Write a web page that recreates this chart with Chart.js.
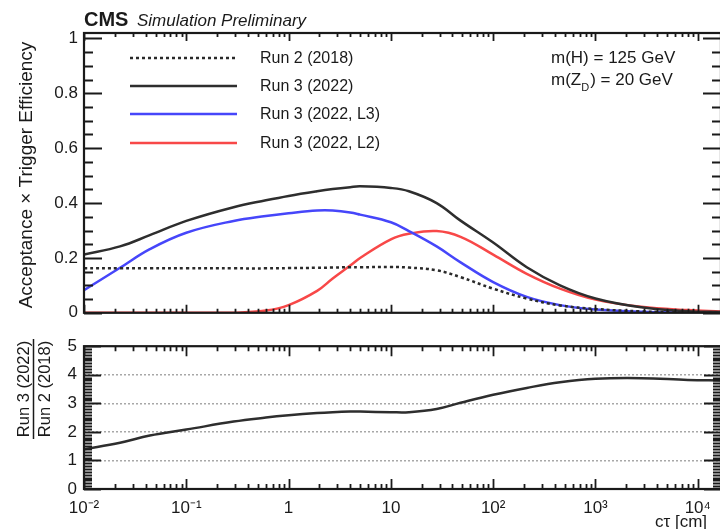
<!DOCTYPE html>
<html>
<head>
<meta charset="utf-8">
<script src="https://cdn.jsdelivr.net/npm/chart.js@4.4.1/dist/chart.umd.min.js"></script>
<style>
  html, body { margin: 0; padding: 0; background: #fff; overflow: hidden; width: 720px; height: 529px; }
  canvas { position: absolute; left: 0; }
  #effChart { top: 0; }
  #ratioChart { top: 329px; }
</style>
</head>
<body>
<canvas id="effChart" width="730" height="329"></canvas>
<canvas id="ratioChart" width="730" height="200"></canvas>
<script>
// proper decay length c·tau in cm
const ctau      = [0.01, 0.0225, 0.044, 0.1, 0.29, 0.6, 1, 1.9, 2.7, 4, 5, 10, 15, 28, 48, 100, 213, 450, 1000, 2800, 8000, 16870];
// acceptance x trigger efficiency
const run2018   = [0.162, 0.162, 0.162, 0.162, 0.162, 0.162, 0.163, 0.164, 0.165, 0.166, 0.166, 0.167, 0.165, 0.155, 0.13, 0.088, 0.052, 0.027, 0.014, 0.005, 0.0015, 0.0008];
const run2022   = [0.212, 0.242, 0.283, 0.335, 0.385, 0.41, 0.426, 0.443, 0.451, 0.458, 0.461, 0.455, 0.443, 0.40, 0.336, 0.256, 0.166, 0.10, 0.052, 0.02, 0.006, 0.003];
const run2022L3 = [0.082, 0.164, 0.232, 0.292, 0.335, 0.353, 0.363, 0.373, 0.373, 0.366, 0.358, 0.33, 0.298, 0.242, 0.184, 0.112, 0.058, 0.028, 0.012, 0.004, 0.001, 0.0005];
const run2022L2 = [0, 0, 0, 0, 0, 0.008, 0.028, 0.08, 0.125, 0.172, 0.2, 0.268, 0.288, 0.298, 0.277, 0.212, 0.142, 0.088, 0.048, 0.022, 0.01, 0.005];
// Run 3 (2022) / Run 2 (2018)
const ratio     = [1.39, 1.62, 1.87, 2.08, 2.36, 2.5, 2.58, 2.66, 2.69, 2.71, 2.71, 2.69, 2.69, 2.8, 3.02, 3.3, 3.54, 3.74, 3.86, 3.88, 3.82, 3.8];

const effTicks        = [0, 0.2, 0.4, 0.6, 0.8, 1];
const effTickLabels   = ['0', '0.2', '0.4', '0.6', '0.8', '1'];
const ratioTicks      = [0, 1, 2, 3, 4, 5];
const ratioTickLabels = ['0', '1', '2', '3', '4', '5'];
const ctTicks         = [0.01, 0.1, 1, 10, 100, 1000, 10000];
const ctTickLabels    = ['10⁻²', '10⁻¹', '1', '10', '10²', '10³', '10⁴'];

const X_MIN = 0.01, X_MAX = 16870;
const FONT = "'Liberation Sans', Arial, Helvetica, sans-serif";
const INK = '#1a1a1a';

Chart.defaults.font.family = FONT;
Chart.defaults.color = INK;

const pts = vals => ctau.map((c, i) => ({ x: c, y: vals[i] }));

// ROOT-style frame with inward ticks on all four sides
const rootFrame = {
  id: 'rootFrame',
  afterDatasetsDraw(chart, args, o) {
    const { ctx, chartArea: a, scales: { x, y } } = chart;
    ctx.save();
    ctx.strokeStyle = INK;
    ctx.lineWidth = 2.2;
    ctx.strokeRect(a.left, a.top, a.right - a.left, a.bottom - a.top);
    ctx.lineWidth = 1.8;
    ctx.beginPath();
    for (let d = -2; d <= 4; d++) {
      for (let m = 1; m <= 9; m++) {
        const v = m * Math.pow(10, d);
        if (v < x.min * 0.999 || v > x.max) continue;
        const px = Math.round(x.getPixelForValue(v)) + 0.5;
        const len = m === 1 ? o.xMajor : o.xMinor;
        ctx.moveTo(px, a.bottom); ctx.lineTo(px, a.bottom - len);
        ctx.moveTo(px, a.top); ctx.lineTo(px, a.top + len);
      }
    }
    const n = Math.round((y.max - y.min) / o.yMinorStep);
    for (let i = 0; i <= n; i++) {
      const v = y.min + i * o.yMinorStep;
      if (v > y.max + 1e-9) break;
      const r = v / o.yMajorStep;
      const major = Math.abs(r - Math.round(r)) < 1e-6;
      const len = major ? o.yMajor : o.yMinor;
      const py = Math.round(y.getPixelForValue(v)) + 0.5;
      ctx.moveTo(a.left, py); ctx.lineTo(a.left + len, py);
      ctx.moveTo(a.right, py); ctx.lineTo(a.right - len, py);
    }
    ctx.stroke();
    ctx.restore();
  }
};

// Text and legend of the efficiency panel
const effDecor = {
  id: 'effDecor',
  afterDraw(chart) {
    const ctx = chart.ctx;
    ctx.save();
    ctx.fillStyle = INK;
    ctx.textBaseline = 'alphabetic';
    ctx.textAlign = 'left';
    ctx.font = `bold 20px ${FONT}`;
    ctx.fillText('CMS', 84, 26);
    ctx.font = `italic 17px ${FONT}`;
    ctx.fillText('Simulation Preliminary', 137, 26);

    // legend
    const rows = [58, 86, 114, 143];
    chart.data.datasets.forEach((ds, i) => {
      const yy = rows[i];
      ctx.save();
      ctx.strokeStyle = ds.borderColor;
      ctx.lineWidth = ds.borderWidth;
      ctx.setLineDash(ds.borderDash || []);
      ctx.beginPath();
      ctx.moveTo(130, yy); ctx.lineTo(237, yy);
      ctx.stroke();
      ctx.restore();
      ctx.font = `16px ${FONT}`;
      ctx.textBaseline = 'middle';
      ctx.fillText(ds.label, 260, yy + 1);
    });

    // model parameters
    ctx.font = `17px ${FONT}`;
    ctx.textBaseline = 'middle';
    ctx.fillText('m(H) = 125 GeV', 551, 58);
    let xx = 551;
    ctx.fillText('m(Z', xx, 80);
    xx += ctx.measureText('m(Z').width;
    ctx.font = `11px ${FONT}`;
    ctx.fillText('D', xx, 88);
    xx += ctx.measureText('D').width + 1;
    ctx.font = `17px ${FONT}`;
    ctx.fillText(') = 20 GeV', xx, 80);

    // y-axis title
    ctx.translate(32, 175);
    ctx.rotate(-Math.PI / 2);
    ctx.textAlign = 'center';
    ctx.textBaseline = 'alphabetic';
    ctx.font = `19px ${FONT}`;
    ctx.fillText('Acceptance × Trigger Efficiency', 0, 0);
    ctx.restore();
  }
};

// Text of the ratio panel
const ratioDecor = {
  id: 'ratioDecor',
  afterDraw(chart) {
    const ctx = chart.ctx;
    const off = 329; // canvas offset on the page
    ctx.save();
    ctx.fillStyle = INK;
    ctx.strokeStyle = INK;
    ctx.save();
    ctx.translate(0, 389 - off);
    ctx.rotate(-Math.PI / 2);
    ctx.textAlign = 'center';
    ctx.textBaseline = 'alphabetic';
    ctx.font = `16.5px ${FONT}`;
    ctx.fillText('Run 3 (2022)', 0, 29);
    ctx.fillText('Run 2 (2018)', 0, 50);
    ctx.lineWidth = 1.5;
    ctx.beginPath();
    ctx.moveTo(-50, 33.5); ctx.lineTo(50, 33.5);
    ctx.stroke();
    ctx.restore();

    ctx.font = `17px ${FONT}`;
    ctx.textAlign = 'left';
    ctx.textBaseline = 'alphabetic';
    ctx.fillText('cτ [cm]', 655, 527 - off);
    ctx.restore();
  }
};

const lineElements = { point: { radius: 0 }, line: { tension: 0.4, cubicInterpolationMode: 'default', fill: false, capBezierPoints: true } };

const effChart = new Chart(document.getElementById('effChart'), {
  type: 'line',
  data: {
    datasets: [
      { label: 'Run 2 (2018)', data: pts(run2018), borderColor: '#2a2a2a', borderWidth: 2.5, borderDash: [3, 3] },
      { label: 'Run 3 (2022)', data: pts(run2022), borderColor: '#2e2e2e', borderWidth: 2.5 },
      { label: 'Run 3 (2022, L3)', data: pts(run2022L3), borderColor: '#4646fa', borderWidth: 2.5 },
      { label: 'Run 3 (2022, L2)', data: pts(run2022L2), borderColor: '#f84848', borderWidth: 2.5 }
    ]
  },
  options: {
    responsive: false,
    animation: false,
    devicePixelRatio: 1,
    elements: lineElements,
    layout: { padding: { top: 33, bottom: 13, right: 9, left: 0 } },
    plugins: {
      legend: { display: false },
      tooltip: { enabled: false },
      rootFrame: { xMajor: 8, xMinor: 4, yMajor: 18, yMinor: 9, yMinorStep: 0.05, yMajorStep: 0.2 }
    },
    scales: {
      x: { type: 'logarithmic', min: X_MIN, max: X_MAX, display: false },
      y: {
        type: 'linear', min: 0, max: 1.02,
        grid: { display: false, drawTicks: false },
        border: { display: false },
        afterBuildTicks: s => { s.ticks = effTicks.map(v => ({ value: v })); },
        afterFit: s => { s.width = 84; },
        ticks: {
          padding: 6,
          font: { size: 17 },
          color: INK,
          callback: (v) => { const i = effTicks.findIndex(t => Math.abs(t - v) < 1e-9); return i >= 0 ? effTickLabels[i] : ''; }
        }
      }
    }
  },
  plugins: [rootFrame, effDecor]
});

const ratioChart = new Chart(document.getElementById('ratioChart'), {
  type: 'line',
  data: {
    datasets: [
      { label: 'Run 3 (2022) / Run 2 (2018)', data: pts(ratio), borderColor: '#2e2e2e', borderWidth: 2.5 }
    ]
  },
  options: {
    responsive: false,
    animation: false,
    devicePixelRatio: 1,
    elements: lineElements,
    layout: { padding: { top: 10, bottom: 0, right: 9, left: 0 } },
    plugins: {
      legend: { display: false },
      tooltip: { enabled: false },
      rootFrame: { xMajor: 10, xMinor: 5, yMajor: 17, yMinor: 8, yMinorStep: 0.1, yMajorStep: 1 }
    },
    scales: {
      x: {
        type: 'logarithmic', min: X_MIN, max: X_MAX,
        grid: { display: false, drawTicks: false },
        border: { display: false },
        afterBuildTicks: s => { s.ticks = ctTicks.map(v => ({ value: v })); },
        afterFit: s => { s.height = 40; },
        ticks: {
          padding: 9,
          maxRotation: 0,
          autoSkip: false,
          font: { size: 17 },
          color: INK,
          callback: (v) => { const i = ctTicks.findIndex(t => Math.abs(t - v) / t < 1e-6); return i >= 0 ? ctTickLabels[i] : ''; }
        }
      },
      y: {
        type: 'linear', min: 0, max: 5,
        grid: {
          display: true, drawTicks: false, lineWidth: 1.5,
          color: c => (c.tick && (c.tick.value === 0 || c.tick.value === 5)) ? 'rgba(0,0,0,0)' : '#a8a8a8'
        },
        border: { display: false, dash: [2, 2] },
        afterBuildTicks: s => { s.ticks = ratioTicks.map(v => ({ value: v })); },
        afterFit: s => { s.width = 84; },
        ticks: {
          padding: 7,
          font: { size: 17 },
          color: INK,
          callback: (v) => { const i = ratioTicks.indexOf(v); return i >= 0 ? ratioTickLabels[i] : ''; }
        }
      }
    }
  },
  plugins: [rootFrame, ratioDecor]
});
</script>
</body>
</html>
